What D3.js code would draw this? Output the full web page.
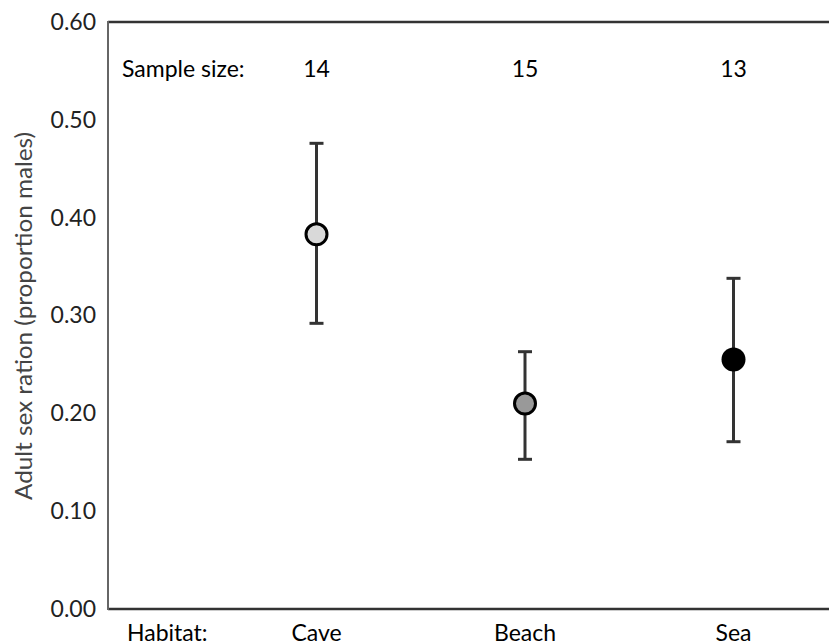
<!DOCTYPE html>
<html><head><meta charset="utf-8">
<script src="https://cdn.jsdelivr.net/npm/d3@7"></script>
<style>body{margin:0;background:#fff;} svg{display:block;}</style>
</head><body>
<script>
const categories = ["Cave", "Beach", "Sea"];
const means = [0.383, 0.210, 0.255];
const upper = [0.476, 0.263, 0.338];
const lower = [0.292, 0.153, 0.171];
const sampleSizes = [14, 15, 13];
const fills = ["#d9d9d9", "#999999", "#000000"];
const yTicks = [0, 0.1, 0.2, 0.3, 0.4, 0.5, 0.6];

const W = 829, H = 644;
const svg = d3.select("body").append("svg").attr("width", W).attr("height", H);
const font = "Lato, 'Open Sans', sans-serif";
const fs = 23;

const y = d3.scaleLinear().domain([0, 0.6]).range([609, 22]);
const x = d3.scaleLinear().domain([0, 4]).range([108, 108 + 4 * 208.5]);

// y axis
const yAxis = d3.axisLeft(y).tickValues(yTicks).tickFormat(d3.format(".2f")).tickSize(0).tickPadding(12);
const ga = svg.append("g").attr("transform", "translate(108,0)").call(yAxis);
ga.select(".domain").remove();
ga.selectAll("text").attr("font-family", font).attr("font-size", fs).attr("fill", "#222");

// frame lines
svg.append("line").attr("x1", 108).attr("x2", W).attr("y1", y(0.6)).attr("y2", y(0.6)).attr("stroke", "#333").attr("stroke-width", 2.5);
svg.append("line").attr("x1", 108).attr("x2", W).attr("y1", y(0)).attr("y2", y(0)).attr("stroke", "#333").attr("stroke-width", 2.5);
svg.append("line").attr("x1", 108).attr("x2", 108).attr("y1", y(0.6) - 1).attr("y2", y(0) + 1).attr("stroke", "#666").attr("stroke-width", 2);

// y title
svg.append("text").attr("transform", `translate(32,${(132 + 500) / 2}) rotate(-90)`)
  .attr("text-anchor", "middle").attr("font-family", font).attr("font-size", 24).attr("fill", "#444")
  .attr("textLength", 368).attr("lengthAdjust", "spacingAndGlyphs")
  .text("Adult sex ration (proportion males)");

// error bars and points
const g = svg.append("g");
categories.forEach((c, i) => {
  const cx = x(i + 1);
  g.append("line").attr("x1", cx).attr("x2", cx).attr("y1", y(upper[i])).attr("y2", y(lower[i])).attr("stroke", "#333").attr("stroke-width", 3);
  [upper[i], lower[i]].forEach(v => {
    g.append("line").attr("x1", cx - 7).attr("x2", cx + 7).attr("y1", y(v)).attr("y2", y(v)).attr("stroke", "#333").attr("stroke-width", 3);
  });
  g.append("circle").attr("cx", cx).attr("cy", y(means[i])).attr("r", i === 2 ? 12 : 10.5)
    .attr("fill", fills[i]).attr("stroke", "#000").attr("stroke-width", i === 2 ? 0 : 3);
  svg.append("text").attr("x", cx).attr("y", 77).attr("text-anchor", "middle").attr("font-family", font).attr("font-size", fs).attr("fill", "#000").text(sampleSizes[i]);
  svg.append("text").attr("x", cx).attr("y", 641).attr("text-anchor", "middle").attr("font-family", font).attr("font-size", fs).attr("fill", "#000").text(c);
});
svg.append("text").attr("x", 122).attr("y", 77).attr("font-family", font).attr("font-size", fs).attr("fill", "#000").text("Sample size:");
svg.append("text").attr("x", 127).attr("y", 641).attr("font-family", font).attr("font-size", fs).attr("fill", "#000").text("Habitat:");
</script>
</body></html>
